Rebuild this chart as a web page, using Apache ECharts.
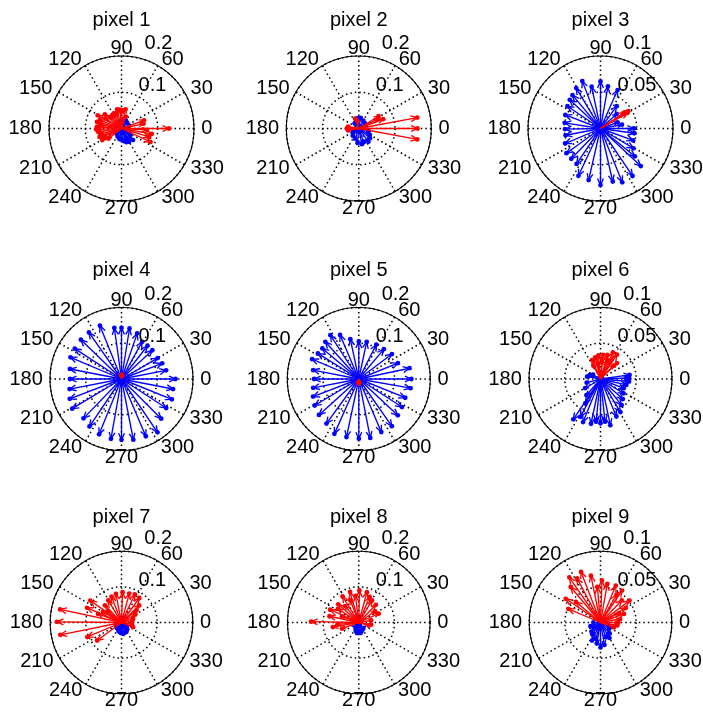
<!DOCTYPE html>
<html>
<head>
<meta charset="utf-8">
<script src="https://cdn.jsdelivr.net/npm/echarts@6/dist/echarts.min.js"></script>
<style>
  html, body { margin: 0; padding: 0; background: #fff; }
  #chart { width: 703px; height: 713px; }
</style>
</head>
<body>
<div id="chart"></div>
<script>
// Compass plots of per-pixel vectors: each arrow is [angle in degrees, magnitude].
const titles = ['pixel 1', 'pixel 2', 'pixel 3', 'pixel 4', 'pixel 5', 'pixel 6', 'pixel 7', 'pixel 8', 'pixel 9'];
const angleTicks = [0, 30, 60, 90, 120, 150, 180, 210, 240, 270, 300, 330];
const angleLabels = ['0', '30', '60', '90', '120', '150', '180', '210', '240', '270', '300', '330'];
const radiusMax = [0.2, 0.2, 0.1, 0.2, 0.2, 0.1, 0.2, 0.2, 0.1];
const radiusTicks = [[0.1, 0.2], [0.1, 0.2], [0.05, 0.1], [0.1, 0.2], [0.1, 0.2], [0.05, 0.1], [0.1, 0.2], [0.1, 0.2], [0.05, 0.1]];

const pixel1Red = [[0, 0.131], [12, 0.062], [20, 0.066], [350, 0.085], [343, 0.08], [335, 0.088], [357, 0.07],
  [70, 0.035], [78, 0.054], [88, 0.05], [95, 0.052], [103, 0.054], [110, 0.045], [117, 0.047],
  [125, 0.045], [133, 0.044], [140, 0.06], [148, 0.052], [151, 0.075], [159, 0.064], [165, 0.07], [170, 0.06],
  [176, 0.068], [182, 0.07], [188, 0.065], [195, 0.06], [201, 0.065], [205, 0.055], [211, 0.062], [218, 0.045]];
const pixel1Blue = [[200, 0.018], [230, 0.02], [245, 0.025], [260, 0.03], [270, 0.03], [280, 0.035], [290, 0.04],
  [297, 0.031], [299, 0.042], [305, 0.038], [315, 0.045], [322, 0.03], [330, 0.025], [350, 0.02], [20, 0.022],
  [45, 0.022], [60, 0.025], [75, 0.028], [100, 0.02], [150, 0.015]];

const pixel2Red = [[10.6, 0.164], [0, 0.162], [349.4, 0.164], [21, 0.072], [32, 0.064], [26, 0.06],
  [170, 0.03], [175, 0.03], [180, 0.033], [185, 0.028], [190, 0.03], [110, 0.029], [100, 0.02]];
const pixel2Blue = [[20, 0.02], [40, 0.022], [60, 0.025], [80, 0.03], [90, 0.028], [100, 0.028], [130, 0.018],
  [200, 0.018], [215, 0.02], [230, 0.026], [250, 0.03], [265, 0.04], [281, 0.044], [290, 0.04], [306, 0.045],
  [319, 0.041], [330, 0.035], [345, 0.028]];

const pixel3Red = [[32, 0.045], [30, 0.043], [34, 0.04]];
const pixel3Blue = [[0, 0.046], [10, 0.03], [20, 0.025], [42, 0.03], [54, 0.038], [66, 0.058], [80, 0.059],
  [90, 0.065], [102, 0.059], [111, 0.07], [121, 0.065], [130, 0.06], [137, 0.058], [146, 0.055], [159, 0.052],
  [171, 0.05], [181, 0.049], [191, 0.049], [203, 0.053], [216, 0.058], [226, 0.058], [236, 0.059], [245, 0.072],
  [257, 0.073], [270, 0.078], [283, 0.075], [292, 0.08], [304, 0.079], [317, 0.076], [321, 0.061], [329, 0.053],
  [340, 0.048], [352, 0.047]];

const pixel4Red = [[90, 0.012], [82, 0.01], [98, 0.01]];
const pixel4Blue = [[0, 0.151], [11, 0.127], [21, 0.122], [30, 0.117], [43, 0.118], [52, 0.118], [61, 0.119],
  [71, 0.135], [81, 0.143], [90, 0.143], [98, 0.144], [112, 0.161], [125, 0.159], [136, 0.158], [147, 0.156],
  [157, 0.155], [169, 0.147], [180, 0.144], [191, 0.148], [201, 0.155], [211, 0.161], [226, 0.153], [236, 0.16],
  [248, 0.167], [260, 0.17], [270, 0.17], [281, 0.173], [293, 0.174], [304, 0.18], [315, 0.157], [327, 0.149],
  [338, 0.152], [349, 0.147]];

const pixel5Red = [[270, 0.012], [260, 0.01], [280, 0.01]];
const pixel5Blue = [[0, 0.147], [12, 0.145], [22, 0.118], [37, 0.116], [50, 0.109], [63, 0.108], [78, 0.106],
  [90, 0.105], [102, 0.114], [113, 0.134], [123, 0.146], [132, 0.14], [140, 0.133], [148, 0.135], [157, 0.142],
  [169, 0.13], [180, 0.125], [191, 0.13], [201, 0.137], [211, 0.144], [222, 0.15], [234, 0.154], [246, 0.168],
  [258, 0.166], [270, 0.167], [281, 0.168], [293, 0.161], [305, 0.161], [317, 0.149], [327, 0.144], [338, 0.14],
  [350, 0.147]];

const pixel6Red = [[114, 0.029], [104, 0.031], [95, 0.033], [84, 0.034], [74, 0.035], [65, 0.041], [56, 0.041],
  [44, 0.032], [46, 0.026], [118, 0.021], [100, 0.022], [70, 0.028], [60, 0.03], [85, 0.025]];
const pixel6Blue = [[8, 0.041], [2, 0.04], [355, 0.04], [347, 0.037], [338, 0.035], [328, 0.038], [318, 0.042],
  [309, 0.047], [301, 0.054], [293, 0.057], [282, 0.066], [276, 0.06], [270, 0.062], [264, 0.06], [258, 0.064],
  [248, 0.065], [242, 0.06], [236, 0.068], [238, 0.04], [229, 0.03], [211, 0.025], [195, 0.02], [170, 0.019],
  [160, 0.016], [150, 0.012]];

const pixel7Red = [[168, 0.176], [179.4, 0.181], [191.4, 0.175], [157, 0.105], [145, 0.107], [203, 0.104],
  [216.5, 0.085], [134, 0.067], [121, 0.072], [111, 0.078], [101, 0.082], [88, 0.085], [75, 0.084], [64.5, 0.087],
  [54, 0.085], [44, 0.069], [39, 0.054], [30, 0.045], [17, 0.034], [5, 0.03], [350, 0.03], [338, 0.035],
  [160, 0.07], [150, 0.06], [140, 0.05]];
const pixel7Blue = [[270, 0.03], [260, 0.028], [280, 0.032], [290, 0.03], [250, 0.025], [300, 0.028], [240, 0.02],
  [310, 0.025], [320, 0.02], [90, 0.012], [60, 0.015], [200, 0.015], [230, 0.02], [330, 0.015]];

const pixel8Red = [[179, 0.134], [190, 0.074], [168, 0.084], [156, 0.088], [138.5, 0.077], [122, 0.086],
  [111, 0.067], [106, 0.089], [89, 0.09], [75, 0.088], [59, 0.072], [46, 0.069], [24, 0.061], [343, 0.029],
  [35, 0.055], [10, 0.035], [147, 0.07], [130, 0.06], [97, 0.075], [67, 0.078], [200, 0.05], [185, 0.06],
  [160, 0.05], [350, 0.035]];
const pixel8Blue = [[270, 0.028], [260, 0.03], [280, 0.03], [290, 0.025], [250, 0.025], [300, 0.022], [240, 0.018],
  [90, 0.015], [100, 0.012], [310, 0.02], [230, 0.015]];

const pixel9Red = [[124.6, 0.077], [130, 0.065], [111, 0.076], [101.6, 0.067], [88, 0.059], [67.5, 0.056],
  [56, 0.054], [46, 0.043], [37, 0.051], [30, 0.041], [26.6, 0.029], [350, 0.024], [145.7, 0.059], [157, 0.049],
  [118, 0.07], [80, 0.055], [140, 0.045], [20, 0.035], [10, 0.028], [0, 0.025], [95, 0.05], [60, 0.045], [340, 0.02]];
const pixel9Blue = [[270, 0.035], [254, 0.024], [290, 0.022], [324, 0.015], [260, 0.03], [280, 0.032], [245, 0.028],
  [235, 0.02], [300, 0.025], [310, 0.02], [225, 0.018], [215, 0.012], [340, 0.012], [180, 0.01], [200, 0.015]];

const redSets = [pixel1Red, pixel2Red, pixel3Red, pixel4Red, pixel5Red, pixel6Red, pixel7Red, pixel8Red, pixel9Red];
const blueSets = [pixel1Blue, pixel2Blue, pixel3Blue, pixel4Blue, pixel5Blue, pixel6Blue, pixel7Blue, pixel8Blue, pixel9Blue];

// Layout of the 3x3 grid of compass axes
const colX = [121.5, 358.8, 600.5];
const rowY = [128.5, 379, 622.5];
const rowR = [72.5, 71.5, 71.3];
const titleY = [20, 270, 517];
const FONT = '20px "Liberation Sans", Arial, Helvetica, sans-serif';
const RED = '#ff0000';
const BLUE = '#0000ff';
const dotted = { color: '#000', width: 1.5, type: [1.5, 3] };

function arrowRenderer(color) {
  return function (params, api) {
    const r = api.value(0);
    const a = api.value(1);
    const o = api.coord([0, a]);
    const t = api.coord([r, a]);
    const dx = t[0] - o[0], dy = t[1] - o[1];
    const L = Math.hypot(dx, dy) || 1e-6;
    const ux = dx / L, uy = dy / L;
    const bl = Math.min(0.2 * L, 6.5);
    const hw = bl * 0.45;
    const bx = t[0] - ux * bl, by = t[1] - uy * bl;
    const style = { stroke: color, lineWidth: 1.35, fill: 'none' };
    return {
      type: 'group',
      children: [
        { type: 'polyline', shape: { points: [[o[0], o[1]], [t[0], t[1]]] }, style: style },
        { type: 'polyline', shape: { points: [[bx - uy * hw, by + ux * hw], [t[0], t[1]], [bx + uy * hw, by - ux * hw]] }, style: style },
        { type: 'circle', shape: { cx: t[0], cy: t[1], r: 2.4 }, style: { fill: color } }
      ]
    };
  };
}

function angleLabelRenderer(params, api) {
  const a = api.value(1);
  const p = api.coord([api.value(0) * 1.1, a]);
  const c = Math.cos(a * Math.PI / 180);
  return {
    type: 'text', x: p[0], y: p[1],
    style: {
      text: angleLabels[params.dataIndex], font: FONT, fill: '#000',
      align: c > 0.1 ? 'left' : (c < -0.1 ? 'right' : 'center'), verticalAlign: 'middle'
    }
  };
}

function radiusLabelRenderer(labels) {
  return function (params, api) {
    const p = api.coord([api.value(0) * 1.19, api.value(1)]);
    return {
      type: 'text', x: p[0] + 11, y: p[1],
      style: { text: labels[params.dataIndex], font: FONT, fill: '#000', align: 'left', verticalAlign: 'middle' }
    };
  };
}

const polar = [], angleAxis = [], radiusAxis = [], series = [], graphic = [];
for (let i = 0; i < 9; i++) {
  const row = Math.floor(i / 3), col = i % 3;
  polar.push({ center: [colX[col], rowY[row]], radius: rowR[row] });
  angleAxis.push({
    polarIndex: i, type: 'value', min: 0, max: 360, interval: 30, startAngle: 0, clockwise: false,
    axisLine: { show: true, lineStyle: { color: '#000', width: 1.1 } },
    axisTick: { show: false }, axisLabel: { show: false },
    splitLine: { show: true, lineStyle: dotted }
  });
  radiusAxis.push({
    polarIndex: i, type: 'value', min: 0, max: radiusMax[i], interval: radiusMax[i] / 2,
    axisLine: { show: false }, axisTick: { show: false }, axisLabel: { show: false },
    splitLine: { show: true, lineStyle: dotted }
  });
  series.push({
    type: 'custom', coordinateSystem: 'polar', polarIndex: i, silent: true, z: 3,
    data: blueSets[i].map(d => [d[1], d[0]]), renderItem: arrowRenderer(BLUE)
  });
  series.push({
    type: 'custom', coordinateSystem: 'polar', polarIndex: i, silent: true, z: 4,
    data: redSets[i].map(d => [d[1], d[0]]), renderItem: arrowRenderer(RED)
  });
  series.push({
    type: 'custom', coordinateSystem: 'polar', polarIndex: i, silent: true, z: 6,
    data: angleTicks.map(a => [radiusMax[i], a]), renderItem: angleLabelRenderer
  });
  series.push({
    type: 'custom', coordinateSystem: 'polar', polarIndex: i, silent: true, z: 6,
    data: radiusTicks[i].map(r => [r, 82]), renderItem: radiusLabelRenderer(radiusTicks[i].map(String))
  });
  graphic.push({
    type: 'text', x: colX[col], y: titleY[row],
    style: { text: titles[i], font: FONT, fill: '#000', align: 'center', verticalAlign: 'middle' }
  });
}

const chart = echarts.init(document.getElementById('chart'));
chart.setOption({
  animation: false,
  backgroundColor: '#fff',
  polar: polar,
  angleAxis: angleAxis,
  radiusAxis: radiusAxis,
  series: series,
  graphic: graphic
});
</script>
</body>
</html>
